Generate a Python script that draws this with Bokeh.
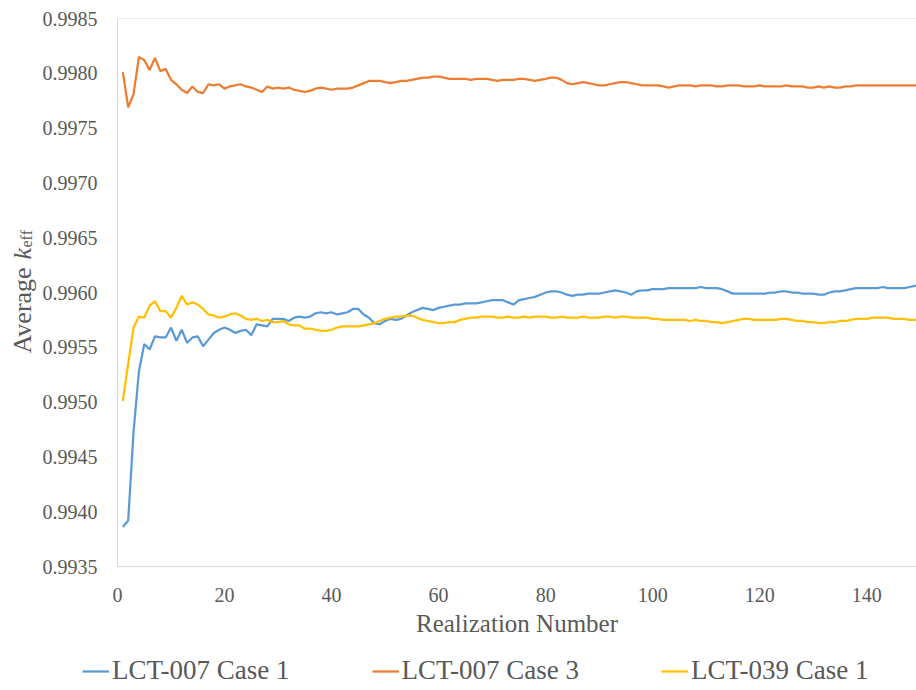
import math
from bokeh.plotting import figure
from bokeh.layouts import row, column
from bokeh.models import (Range1d, FixedTicker, PrintfTickFormatter, Legend, LegendItem,
                          Label, Span)
from bokeh.embed import file_html
from bokeh.resources import INLINE

# Realization index (x) and running-average k_eff for each benchmark case
realization = list(range(1, 151))

lct007_case1 = [
    0.99386, 0.99392, 0.99473, 0.99528, 0.99553, 0.99548, 0.99560, 0.99559, 0.99559, 0.99568,
    0.99556, 0.99566, 0.99554, 0.99559, 0.99560, 0.99551, 0.99557, 0.99563, 0.99566, 0.99568,
    0.99566, 0.99563, 0.99565, 0.99566, 0.99561, 0.99571, 0.99570, 0.99569, 0.99576, 0.99576,
    0.99576, 0.99574, 0.99577, 0.99578, 0.99577, 0.99578, 0.99581, 0.99582, 0.99581, 0.99582,
    0.99580, 0.99581, 0.99582, 0.99585, 0.99585, 0.99580, 0.99577, 0.99572, 0.99571, 0.99574,
    0.99576, 0.99575, 0.99576, 0.99579, 0.99582, 0.99584, 0.99586, 0.99585, 0.99584, 0.99586,
    0.99587, 0.99588, 0.99589, 0.99589, 0.99590, 0.99590, 0.99590, 0.99591, 0.99592, 0.99593,
    0.99593, 0.99593, 0.99591, 0.99589, 0.99593, 0.99594, 0.99595, 0.99596, 0.99598, 0.99600,
    0.99601, 0.99601, 0.99600, 0.99598, 0.99597, 0.99598, 0.99598, 0.99599, 0.99599, 0.99599,
    0.99600, 0.99601, 0.99602, 0.99601, 0.99600, 0.99598, 0.99601, 0.99602, 0.99602, 0.99603,
    0.99603, 0.99603, 0.99604, 0.99604, 0.99604, 0.99604, 0.99604, 0.99604, 0.99605, 0.99604,
    0.99604, 0.99604, 0.99603, 0.99601, 0.99599, 0.99599, 0.99599, 0.99599, 0.99599, 0.99599,
    0.99599, 0.99600, 0.99600, 0.99601, 0.99601, 0.99600, 0.99600, 0.99599, 0.99599, 0.99599,
    0.99598, 0.99598, 0.99600, 0.99601, 0.99601, 0.99602, 0.99603, 0.99604, 0.99604, 0.99604,
    0.99604, 0.99604, 0.99605, 0.99604, 0.99604, 0.99604, 0.99604, 0.99605, 0.99606, 0.99606,
]

lct007_case3 = [
    0.99801, 0.99769, 0.99781, 0.99815, 0.99812, 0.99803, 0.99814, 0.99802, 0.99804, 0.99794,
    0.99790, 0.99785, 0.99782, 0.99788, 0.99783, 0.99782, 0.99790, 0.99789, 0.99790, 0.99786,
    0.99788, 0.99789, 0.99790, 0.99788, 0.99787, 0.99785, 0.99783, 0.99788, 0.99786, 0.99787,
    0.99786, 0.99787, 0.99785, 0.99784, 0.99783, 0.99784, 0.99786, 0.99787, 0.99786, 0.99785,
    0.99786, 0.99786, 0.99786, 0.99787, 0.99789, 0.99791, 0.99793, 0.99793, 0.99793, 0.99792,
    0.99791, 0.99792, 0.99793, 0.99793, 0.99794, 0.99795, 0.99796, 0.99796, 0.99797, 0.99797,
    0.99796, 0.99795, 0.99795, 0.99795, 0.99795, 0.99794, 0.99795, 0.99795, 0.99795, 0.99794,
    0.99793, 0.99794, 0.99794, 0.99794, 0.99795, 0.99795, 0.99794, 0.99793, 0.99794, 0.99795,
    0.99796, 0.99796, 0.99794, 0.99791, 0.99790, 0.99791, 0.99792, 0.99791, 0.99790, 0.99789,
    0.99789, 0.99790, 0.99791, 0.99792, 0.99792, 0.99791, 0.99790, 0.99789, 0.99789, 0.99789,
    0.99789, 0.99788, 0.99787, 0.99788, 0.99789, 0.99789, 0.99789, 0.99788, 0.99789, 0.99789,
    0.99789, 0.99788, 0.99788, 0.99789, 0.99789, 0.99789, 0.99788, 0.99788, 0.99788, 0.99789,
    0.99788, 0.99788, 0.99788, 0.99788, 0.99789, 0.99788, 0.99788, 0.99788, 0.99787, 0.99787,
    0.99788, 0.99787, 0.99788, 0.99787, 0.99787, 0.99788, 0.99788, 0.99789, 0.99789, 0.99789,
    0.99789, 0.99789, 0.99789, 0.99789, 0.99789, 0.99789, 0.99789, 0.99789, 0.99789, 0.99789,
]

lct039_case1 = [
    0.99501, 0.99535, 0.99568, 0.99578, 0.99577, 0.99588, 0.99592, 0.99583, 0.99583, 0.99577,
    0.99586, 0.99597, 0.99589, 0.99591, 0.99589, 0.99585, 0.99580, 0.99579, 0.99577, 0.99578,
    0.99580, 0.99581, 0.99579, 0.99576, 0.99575, 0.99576, 0.99574, 0.99575, 0.99573, 0.99573,
    0.99574, 0.99571, 0.99570, 0.99570, 0.99567, 0.99567, 0.99566, 0.99565, 0.99565, 0.99566,
    0.99568, 0.99569, 0.99569, 0.99569, 0.99569, 0.99570, 0.99571, 0.99572, 0.99574, 0.99576,
    0.99577, 0.99578, 0.99578, 0.99579, 0.99579, 0.99577, 0.99575, 0.99574, 0.99573, 0.99572,
    0.99572, 0.99573, 0.99573, 0.99575, 0.99576, 0.99577, 0.99577, 0.99578, 0.99578, 0.99578,
    0.99577, 0.99577, 0.99578, 0.99577, 0.99577, 0.99578, 0.99577, 0.99578, 0.99578, 0.99578,
    0.99577, 0.99577, 0.99578, 0.99577, 0.99577, 0.99577, 0.99578, 0.99577, 0.99577, 0.99577,
    0.99578, 0.99578, 0.99577, 0.99578, 0.99578, 0.99577, 0.99577, 0.99577, 0.99577, 0.99576,
    0.99576, 0.99575, 0.99575, 0.99575, 0.99575, 0.99575, 0.99574, 0.99575, 0.99574, 0.99574,
    0.99573, 0.99573, 0.99572, 0.99573, 0.99574, 0.99575, 0.99576, 0.99576, 0.99575, 0.99575,
    0.99575, 0.99575, 0.99575, 0.99576, 0.99576, 0.99575, 0.99574, 0.99574, 0.99573, 0.99573,
    0.99572, 0.99572, 0.99573, 0.99573, 0.99574, 0.99574, 0.99575, 0.99576, 0.99576, 0.99576,
    0.99577, 0.99577, 0.99577, 0.99577, 0.99576, 0.99576, 0.99576, 0.99575, 0.99575, 0.99575,
]

series_names = ["LCT-007 Case 1", "LCT-007 Case 3", "LCT-039 Case 1"]
series_colors = ["#5B9BD5", "#ED7D31", "#FFC000"]
all_series = [lct007_case1, lct007_case3, lct039_case1]

x_ticks = [0, 20, 40, 60, 80, 100, 120, 140]
y_ticks = [0.9935, 0.9940, 0.9945, 0.9950, 0.9955, 0.9960, 0.9965, 0.9970, 0.9975, 0.9980, 0.9985]

FONT = "Liberation Serif"
TEXT = "#595959"
FRAME = "#D9D9D9"

TOTAL_W, TOTAL_H = 916, 690
LABEL_W = 38          # strip holding the rotated y-axis title
LEGEND_H = 45         # strip holding the legend
MAIN_H = TOTAL_H - LEGEND_H
FRAME_LEFT, FRAME_TOP, FRAME_BOTTOM = 117, 18, 566


def blank_panel(width, height, **kw):
    """A figure without axes, used only to carry annotations."""
    f = figure(width=width, height=height, output_backend="svg", toolbar_location=None,
               x_axis_type=None, y_axis_type=None,
               x_range=Range1d(-2, -1), y_range=Range1d(0, 1),
               min_border_left=0, min_border_right=0, **kw)
    f.outline_line_color = None
    f.grid.visible = False
    f.background_fill_color = "white"
    f.border_fill_color = "white"
    return f


# ---- main chart --------------------------------------------------------------
p = figure(width=TOTAL_W - LABEL_W, height=MAIN_H, output_backend="svg", toolbar_location=None,
           x_range=Range1d(0, 149.3), y_range=Range1d(0.9935, 0.9985),
           min_border_left=FRAME_LEFT - LABEL_W, min_border_right=0, min_border_top=FRAME_TOP,
           min_border_bottom=MAIN_H - FRAME_BOTTOM)

p.background_fill_color = "white"
p.border_fill_color = "white"
p.outline_line_color = None
p.grid.visible = False

for ax in (p.xaxis[0], p.yaxis[0]):
    ax.axis_line_color = FRAME
    ax.axis_line_width = 1
    ax.major_tick_line_color = None
    ax.minor_tick_line_color = None
    ax.major_tick_out = 0
    ax.major_tick_in = 0
    ax.major_label_text_font = FONT
    ax.major_label_text_font_size = "20px"
    ax.major_label_text_color = TEXT

p.xaxis.ticker = FixedTicker(ticks=x_ticks)
p.yaxis.ticker = FixedTicker(ticks=y_ticks)
p.yaxis.formatter = PrintfTickFormatter(format="%.4f")
p.xaxis.major_label_standoff = 21
p.yaxis.major_label_standoff = 20

p.xaxis.axis_label = "Realization Number"
p.xaxis.axis_label_text_font = FONT
p.xaxis.axis_label_text_font_size = "25px"
p.xaxis.axis_label_text_font_style = "normal"
p.xaxis.axis_label_text_color = TEXT
p.xaxis.axis_label_standoff = 5

# top edge of the plot frame
p.add_layout(Span(location=0.9985, dimension="width", line_color=FRAME, line_width=1))

for ys, color in zip(all_series, series_colors):
    p.line(realization, ys, line_color=color, line_width=2.25)

# ---- rotated y-axis title: "Average k_eff" -------------------------------------
# the strip's frame is aligned with the chart frame (rows share frame edges),
# so y positions are measured up from the chart's bottom edge
ylab = blank_panel(LABEL_W, MAIN_H, min_border_top=FRAME_TOP,
                   min_border_bottom=MAIN_H - FRAME_BOTTOM)
base_x = 22
title_bottom = 213
ylab.add_layout(Label(x=base_x, y=title_bottom, x_units="screen", y_units="screen",
                      angle=math.pi / 2, text="Average", text_font=FONT,
                      text_font_size="26px", text_color=TEXT,
                      text_align="left", text_baseline="alphabetic"))
ylab.add_layout(Label(x=base_x, y=title_bottom + 94, x_units="screen", y_units="screen",
                      angle=math.pi / 2, text="k", text_font=FONT, text_font_size="26px",
                      text_font_style="italic", text_color=TEXT,
                      text_align="left", text_baseline="alphabetic"))
ylab.add_layout(Label(x=base_x + 4, y=title_bottom + 106, x_units="screen", y_units="screen",
                      angle=math.pi / 2, text="eff", text_font=FONT, text_font_size="16px",
                      text_color=TEXT, text_align="left", text_baseline="alphabetic"))

# ---- legend strip ------------------------------------------------------------
# legend keys reuse the series; the strip's x range keeps the lines out of view
leg = blank_panel(TOTAL_W, LEGEND_H, min_border_top=0, min_border_bottom=0)
keys = [leg.line(realization, ys, line_color=c, line_width=2.25)
        for ys, c in zip(all_series, series_colors)]
legend = Legend(
    items=[LegendItem(label=n, renderers=[r]) for n, r in zip(series_names, keys)],
    orientation="horizontal",
    location=(82, 4),
    border_line_color=None,
    background_fill_alpha=0,
    padding=0, margin=0,
    spacing=82,
    glyph_width=27, glyph_height=30,
    label_height=30, label_standoff=3,
    label_text_font=FONT, label_text_font_size="27px", label_text_color=TEXT,
)
leg.add_layout(legend, "center")

layout = column(row(ylab, p, spacing=0), leg, spacing=0)

open("out.html", "w").write(file_html(layout, INLINE))
